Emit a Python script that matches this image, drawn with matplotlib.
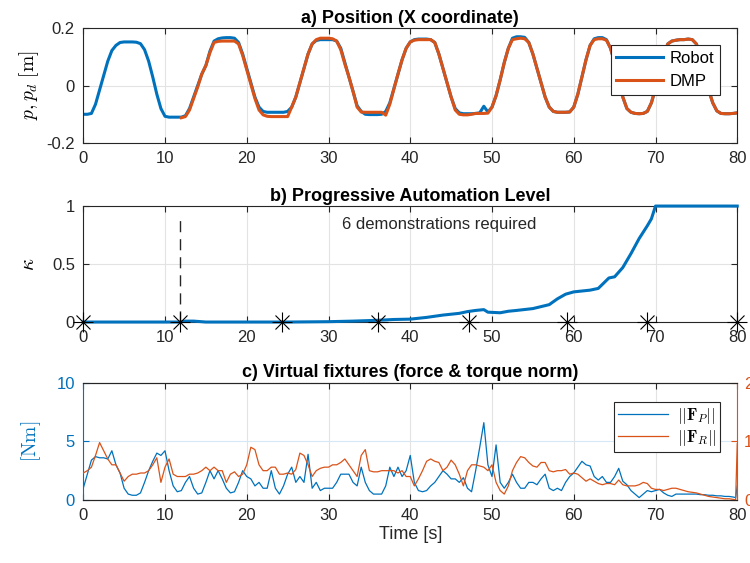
import matplotlib
matplotlib.use('Agg')
import matplotlib.pyplot as plt
import numpy as np

plt.rcParams['font.family'] = ['Liberation Sans', 'DejaVu Sans']
plt.rcParams['mathtext.fontset'] = 'cm'

blue = '#0072BD'
orange = '#D95319'
dark = '#262626'

# a) position, sampled every 0.5 s
t_pos = np.arange(0, 80.5, 0.5)
robot = [-0.100, -0.100, -0.097, -0.065, -0.015, 0.035, 0.085, 0.122, 0.140, 0.150,
         0.152, 0.152, 0.152, 0.151, 0.146, 0.125, 0.085, 0.030, -0.030, -0.080,
         -0.107, -0.110, -0.110, -0.110, -0.110, -0.105, -0.080, -0.040, 0.000, 0.040,
         0.070, 0.120, 0.155, 0.163, 0.166, 0.167, 0.167, 0.165, 0.150, 0.110,
         0.060, 0.010, -0.040, -0.075, -0.090, -0.093, -0.093, -0.093, -0.093, -0.093,
         -0.090, -0.075, -0.040, 0.010, 0.060, 0.110, 0.145, 0.157, 0.160, 0.160,
         0.160, 0.160, 0.155, 0.130, 0.080, 0.030, -0.020, -0.070, -0.090, -0.100,
         -0.101, -0.101, -0.101, -0.100, -0.090, -0.060, -0.010, 0.040, 0.090, 0.130,
         0.152, 0.160, 0.162, 0.162, 0.162, 0.160, 0.150, 0.110, 0.060, 0.010,
         -0.040, -0.080, -0.095, -0.098, -0.098, -0.098, -0.097, -0.095, -0.072, -0.092,
         -0.075, -0.035, 0.020, 0.080, 0.130, 0.165, 0.170, 0.170, 0.168, 0.150,
         0.110, 0.060, 0.010, -0.040, -0.075, -0.090, -0.093, -0.093, -0.093, -0.092,
         -0.075, -0.030, 0.030, 0.090, 0.140, 0.163, 0.167, 0.167, 0.160, 0.130,
         0.080, 0.020, -0.040, -0.080, -0.093, -0.097, -0.098, -0.097, -0.090, -0.060,
         -0.010, 0.050, 0.105, 0.145, 0.155, 0.158, 0.160, 0.160, 0.162, 0.160,
         0.145, 0.105, 0.045, -0.015, -0.060, -0.088, -0.097, -0.098, -0.098, -0.097,
         -0.095]
t_dmp = np.arange(12, 80.5, 0.5)
dmp = [-0.112, -0.108, -0.085, -0.045, -0.005, 0.040, 0.070, 0.115, 0.150, 0.154,
       0.155, 0.155, 0.155, 0.155, 0.145, 0.105, 0.055, 0.005, -0.045, -0.085,
       -0.102, -0.107, -0.108, -0.108, -0.108, -0.108, -0.108, -0.075, -0.040, 0.010,
       0.060, 0.110, 0.145, 0.160, 0.165, 0.165, 0.165, 0.163, 0.155, 0.125,
       0.075, 0.030, -0.020, -0.075, -0.092, -0.093, -0.093, -0.093, -0.093, -0.093,
       -0.103, -0.065, -0.012, 0.040, 0.090, 0.130, 0.152, 0.158, 0.160, 0.160,
       0.160, 0.160, 0.150, 0.110, 0.060, 0.010, -0.040, -0.085, -0.100, -0.102,
       -0.102, -0.100, -0.097, -0.097, -0.097, -0.096, -0.075, -0.035, 0.020, 0.080,
       0.130, 0.160, 0.163, 0.165, 0.163, 0.150, 0.110, 0.060, 0.010, -0.040,
       -0.075, -0.090, -0.093, -0.093, -0.093, -0.092, -0.075, -0.030, 0.030, 0.090,
       0.140, 0.160, 0.163, 0.163, 0.158, 0.130, 0.080, 0.020, -0.040, -0.080,
       -0.093, -0.097, -0.098, -0.097, -0.090, -0.060, -0.010, 0.050, 0.105, 0.145,
       0.155, 0.158, 0.160, 0.160, 0.162, 0.160, 0.145, 0.105, 0.045, -0.015,
       -0.060, -0.088, -0.097, -0.098, -0.098, -0.097, -0.095]

# b) automation level
t_kappa = [0, 11.8, 12.5, 13.5, 15, 20, 25, 30, 33, 36, 38, 40, 42, 44, 46, 47, 48,
           49, 49.5, 51, 52, 53, 55, 57, 58, 59, 60, 62, 63, 64.3, 65, 66, 67, 68,
           69, 69.5, 70, 80]
kappa = [0, 0, 0.008, 0.008, 0.0, 0.0, 0.0, 0.003, 0.008, 0.015, 0.022, 0.025, 0.04,
         0.06, 0.075, 0.09, 0.1, 0.107, 0.085, 0.08, 0.093, 0.1, 0.116, 0.15, 0.2,
         0.24, 0.26, 0.275, 0.29, 0.38, 0.39, 0.47, 0.59, 0.72, 0.83, 0.89, 1.0, 1.0]
demo_times = [0, 11.8, 24.3, 36.0, 47.2, 59.2, 69.0, 80.0]

# c) virtual fixtures, sampled every 0.5 s plus the end spike
t_vf = np.concatenate([np.arange(0, 80, 0.5), [79.8, 80.0]])
force_p = [1.0, 2.2, 3.4, 3.7, 3.6, 3.6, 3.5, 4.2, 3.0, 2.3,
           1.0, 0.5, 0.4, 0.4, 0.6, 1.5, 2.5, 3.3, 4.0, 3.8,
           4.2, 2.5, 1.2, 0.7, 0.8, 1.5, 2.0, 1.0, 0.5, 0.6,
           1.5, 2.5, 1.8, 2.5, 1.8, 1.0, 0.6, 0.7, 1.5, 2.5,
           2.0, 1.8, 1.2, 1.5, 1.0, 1.0, 2.5, 1.0, 0.5, 1.2,
           2.2, 2.8, 1.5, 2.0, 1.5, 3.9, 1.0, 1.5, 0.8, 1.0,
           1.0, 1.0, 1.5, 2.2, 2.2, 2.2, 1.5, 1.2, 2.8, 1.5,
           0.8, 0.5, 0.5, 0.5, 1.2, 2.8, 2.0, 2.8, 2.0, 2.5,
           3.8, 1.5, 0.8, 0.7, 0.8, 1.2, 1.5, 2.0, 2.5, 2.2,
           1.8, 1.8, 1.5, 1.9, 1.0, 0.7, 2.5, 4.5, 6.6, 3.0,
           2.0, 4.7, 1.5, 1.0, 1.5, 2.2, 1.5, 1.0, 1.0, 1.5,
           1.5, 1.3, 1.8, 2.2, 1.0, 0.8, 1.0, 0.8, 1.5, 2.0,
           2.3, 2.8, 3.3, 3.0, 2.9, 2.0, 1.7, 2.0, 1.5, 1.5,
           2.0, 2.7, 1.6, 1.3, 0.8, 0.5, 0.2, 0.5, 0.8, 0.7,
           0.8, 0.9, 0.6, 0.4, 0.3, 0.5, 0.5, 0.5, 0.5, 0.5,
           0.5, 0.45, 0.45, 0.4, 0.4, 0.35, 0.35, 0.3, 0.3, 0.25,
           0.2, 1.2]
force_r = [0.46, 0.50, 0.56, 0.76, 0.98, 0.84, 0.70, 0.60, 0.60, 0.46,
           0.32, 0.40, 0.44, 0.44, 0.46, 0.46, 0.50, 0.60, 0.72, 0.30,
           0.56, 0.70, 0.44, 0.40, 0.40, 0.40, 0.44, 0.44, 0.46, 0.50,
           0.56, 0.50, 0.56, 0.50, 0.50, 0.30, 0.44, 0.48, 0.40, 0.44,
           0.60, 0.90, 0.86, 0.60, 0.50, 0.50, 0.56, 0.56, 0.44, 0.44,
           0.46, 0.44, 0.52, 0.80, 0.76, 0.60, 0.40, 0.50, 0.54, 0.56,
           0.56, 0.60, 0.60, 0.64, 0.70, 0.60, 0.50, 0.40, 0.76, 0.86,
           0.50, 0.48, 0.48, 0.50, 0.50, 0.50, 0.50, 0.46, 0.50, 0.40,
           0.40, 0.24, 0.36, 0.50, 0.66, 0.70, 0.66, 0.64, 0.50, 0.56,
           0.68, 0.60, 0.44, 0.24, 0.50, 0.60, 0.60, 0.58, 0.56, 0.50,
           0.60, 0.30, 0.16, 0.10, 0.24, 0.50, 0.64, 0.74, 0.72, 0.64,
           0.58, 0.56, 0.64, 0.64, 0.50, 0.48, 0.50, 0.50, 0.52, 0.44,
           0.46, 0.44, 0.38, 0.32, 0.36, 0.32, 0.28, 0.26, 0.28, 0.28,
           0.26, 0.34, 0.26, 0.24, 0.24, 0.24, 0.26, 0.30, 0.28, 0.20,
           0.18, 0.18, 0.16, 0.18, 0.20, 0.20, 0.18, 0.16, 0.14, 0.13,
           0.12, 0.10, 0.08, 0.06, 0.05, 0.04, 0.03, 0.02, 0.02, 0.01,
           0.0, 0.96]


def style_axes(ax):
    ax.set_xlim(0, 80)
    ax.set_xticks(np.arange(0, 81, 10))
    ax.grid(True, color='#e3e3e3', linewidth=0.8)
    ax.set_axisbelow(True)
    ax.tick_params(direction='in', length=4, width=0.8, labelsize=12, colors=dark,
                   top=True, right=True, pad=6)
    for s in ax.spines.values():
        s.set_color(dark)
        s.set_linewidth(0.8)


fig = plt.figure(figsize=(7.5, 5.63), dpi=100)
left, width = 0.111, 0.872

# a)
ax1 = fig.add_axes([left, 0.746, width, 0.204])
ax1.plot(t_pos, robot, color=blue, lw=2.2, label='Robot')
ax1.plot(t_dmp, dmp, color=orange, lw=2.2, label='DMP')
style_axes(ax1)
ax1.set_ylim(-0.2, 0.2)
ax1.set_yticks([-0.2, 0, 0.2])
ax1.set_yticklabels(['-0.2', '0', '0.2'])
ax1.set_title('a) Position (X coordinate)', fontsize=13, fontweight='bold', pad=4)
ax1.set_ylabel(r'$p, p_d\ [\mathrm{m}]$', fontsize=14, labelpad=4)
leg = ax1.legend(loc='upper right', bbox_to_anchor=(0.974, 0.855), fontsize=12,
                 fancybox=False, framealpha=1, edgecolor=dark, handlelength=2.8,
                 borderpad=0.35, labelspacing=0.5, handletextpad=0.4,
                 borderaxespad=0)
leg.get_frame().set_linewidth(0.8)

# b)
ax2 = fig.add_axes([left, 0.428, width, 0.206])
ax2.plot(t_kappa, kappa, color=blue, lw=2.2, clip_on=False, zorder=3)
ax2.plot([demo_times[1], demo_times[1]], [0, 0.92], color=dark, lw=1.0,
         linestyle=(0, (8, 5)))
ax2.plot(demo_times, np.zeros(len(demo_times)), linestyle='none', marker='+',
         markersize=14, markeredgewidth=0.8, color='k', clip_on=False, zorder=4)
ax2.plot(demo_times, np.zeros(len(demo_times)), linestyle='none', marker='x',
         markersize=10, markeredgewidth=0.8, color='k', clip_on=False, zorder=4)
ax2.text(43.5, 0.845, '6 demonstrations required', fontsize=12, ha='center',
         va='center', color=dark)
style_axes(ax2)
ax2.set_ylim(0, 1)
ax2.set_yticks([0, 0.5, 1])
ax2.set_yticklabels(['0', '0.5', '1'])
ax2.set_title('b) Progressive Automation Level', fontsize=13, fontweight='bold', pad=4)
ax2.set_ylabel(r'$\kappa$', fontsize=15, labelpad=10)

# c)
ax3 = fig.add_axes([left, 0.112, width, 0.208])
ln1, = ax3.plot(t_vf, force_p, color=blue, lw=0.9, label=r'$||\mathbf{F}_P||$')
style_axes(ax3)
ax3.grid(False, axis='y')
ax3.axhline(5, color='#d6e8f6', lw=0.8, zorder=0)
ax3.set_ylim(0, 10)
ax3.set_yticks([0, 5, 10])
ax3.tick_params(axis='y', colors=blue, right=False, labelsize=12)
ax3.spines['left'].set_color(blue)
ax3.spines['right'].set_visible(False)
ax3.set_ylabel(r'$[\mathrm{Nm}]$', fontsize=14, color=blue, labelpad=10)
ax3.set_xlabel('Time [s]', fontsize=13, color=dark, labelpad=2)
ax3.set_title('c) Virtual fixtures (force & torque norm)', fontsize=13,
              fontweight='bold', pad=4)

ax4 = ax3.twinx()
ln2, = ax4.plot(t_vf, force_r, color=orange, lw=0.9, label=r'$||\mathbf{F}_R||$')
ax4.set_ylim(0, 2)
ax4.set_yticks([0, 1, 2])
ax4.set_xlim(0, 80)
ax4.tick_params(axis='y', direction='in', length=4, width=0.8, colors=orange,
                labelsize=12, pad=5)
for name, s in ax4.spines.items():
    s.set_color(dark)
    s.set_linewidth(0.8)
ax4.spines['right'].set_color(orange)
ax4.spines['left'].set_visible(False)
leg2 = ax4.legend([ln1, ln2], [ln1.get_label(), ln2.get_label()],
                  loc='upper right', bbox_to_anchor=(0.974, 0.84), fontsize=12,
                  fancybox=False, framealpha=1, edgecolor=dark, handlelength=3.0,
                  borderpad=0.25, labelspacing=0.15, handletextpad=0.5,
                  borderaxespad=0)
leg2.get_frame().set_linewidth(0.8)

fig.savefig('out.png', dpi=100)
